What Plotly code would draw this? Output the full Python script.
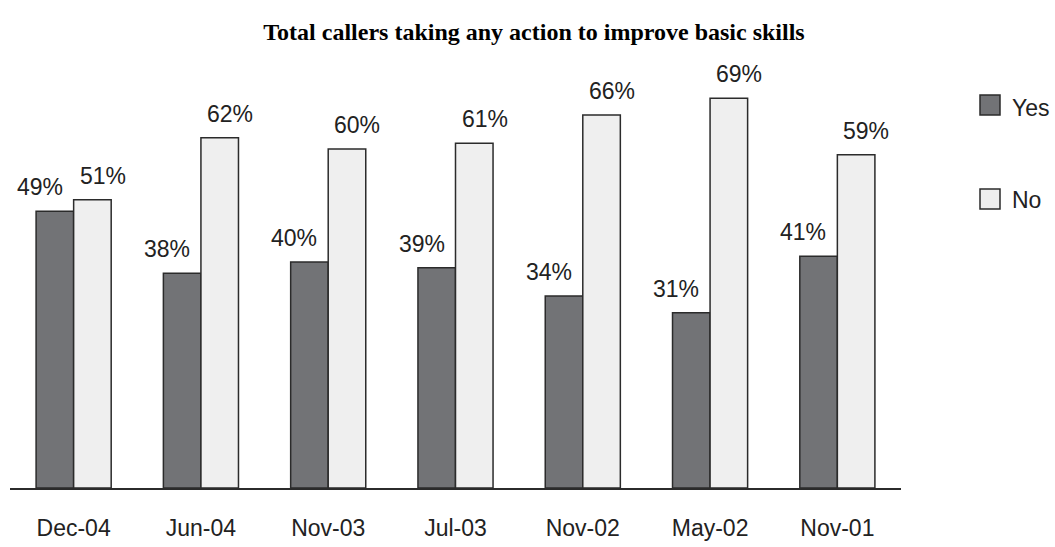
import plotly.graph_objects as go

# Survey waves, most recent first
categories = ["Dec-04", "Jun-04", "Nov-03", "Jul-03", "Nov-02", "May-02", "Nov-01"]
yes_values = [49, 38, 40, 39, 34, 31, 41]
no_values = [51, 62, 60, 61, 66, 69, 59]
series_names = ["Yes", "No"]

title_text = "Total callers taking any action to improve basic skills"

W, H = 1055, 547
PLOT_L, PLOT_R, PLOT_T, PLOT_B = 10, 901, 36, 488

DARK = "#727376"
LIGHT = "#efefef"
EDGE = "#2b2b2b"
LABEL_FONT = dict(family="Liberation Sans, Arial, sans-serif", size=23, color="#222222")

fig = go.Figure()
for name, vals, color in [(series_names[0], yes_values, DARK), (series_names[1], no_values, LIGHT)]:
    fig.add_trace(go.Bar(
        x=categories, y=vals, name=name,
        marker=dict(color=color, line=dict(color=EDGE, width=1.5)),
        showlegend=False, hoverinfo="x+y+name",
    ))

# Percentage labels above each bar (offset from the group centre towards each bar)
annotations = []
for vals, shift in [(yes_values, -34), (no_values, 29)]:
    for cat, v in zip(categories, vals):
        annotations.append(dict(
            x=cat, y=v, xref="x", yref="y", text=f"{v}%",
            showarrow=False, yanchor="bottom", xshift=shift, yshift=9,
            font=LABEL_FONT,
        ))

# Hand-drawn legend to the right of the plot
def px_to_paper_x(px):
    return (px - PLOT_L) / (PLOT_R - PLOT_L)

def px_to_paper_y(py):
    return (PLOT_B - py) / (PLOT_B - PLOT_T)

shapes = []
legend_rows = [(series_names[0], DARK, 95, 115, 108), (series_names[1], LIGHT, 189, 209, 200)]
for name, color, top, bottom, text_mid in legend_rows:
    shapes.append(dict(
        type="rect", xref="paper", yref="paper",
        x0=px_to_paper_x(980), x1=px_to_paper_x(1000),
        y0=px_to_paper_y(bottom), y1=px_to_paper_y(top),
        fillcolor=color, line=dict(color=EDGE, width=1.5),
    ))
    annotations.append(dict(
        x=px_to_paper_x(1010), y=px_to_paper_y(text_mid),
        xref="paper", yref="paper", text=name, showarrow=False,
        xanchor="left", yanchor="middle", font=LABEL_FONT,
    ))

fig.update_layout(
    width=W, height=H,
    margin=dict(l=PLOT_L, r=W - PLOT_R, t=PLOT_T, b=H - PLOT_B, autoexpand=False),
    paper_bgcolor="white", plot_bgcolor="white",
    barmode="group", bargap=0.41, bargroupgap=0,
    title=dict(
        text=f"<b>{title_text}</b>", x=px_to_paper_x(534), xref="paper", xanchor="center",
        y=1 - 32 / H, yanchor="middle",
        font=dict(family="Liberation Serif, Times New Roman, serif", size=24, color="#000000"),
    ),
    xaxis=dict(
        showline=True, linecolor=EDGE, linewidth=1.5, automargin=False,
        showgrid=False, ticks="", ticklabelstandoff=19,
        tickfont=LABEL_FONT, range=[-0.5, 6.5],
    ),
    yaxis=dict(
        range=[0, 80], showgrid=False, showline=False, automargin=False,
        showticklabels=False, zeroline=False, ticks="",
    ),
    annotations=annotations, shapes=shapes,
)

fig.write_html("out.html")
